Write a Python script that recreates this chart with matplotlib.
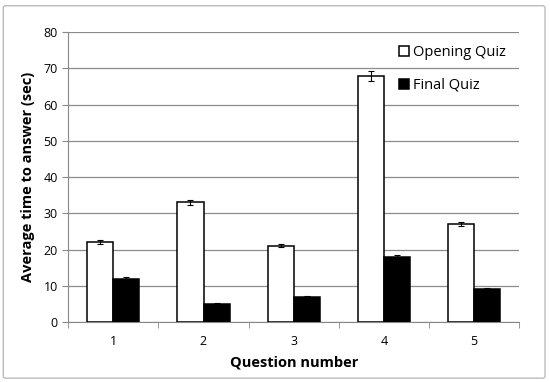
import numpy as np
import matplotlib.pyplot as plt
from matplotlib.patches import FancyBboxPatch

questions = ['1', '2', '3', '4', '5']
opening = [22, 33, 21, 68, 27]
opening_err = [0.5, 0.7, 0.4, 1.4, 0.6]
final = [12, 5, 7, 18, 9]
final_err = [0.5, 0.3, 0.3, 0.6, 0.4]

plt.rcParams['font.family'] = ['Open Sans', 'DejaVu Sans']

fig = plt.figure(figsize=(5.5, 3.82), dpi=100)
ax = fig.add_axes([0.124, 0.157, 0.82, 0.759])

x = np.arange(len(questions))
w = 0.29
err_kw = dict(ecolor='black', elinewidth=0.8, capsize=2.5, capthick=0.8)
ax.bar(x - w/2, opening, w, yerr=opening_err, color='white', edgecolor='black',
       linewidth=1.1, label='Opening Quiz', error_kw=err_kw, zorder=3)
ax.bar(x + w/2, final, w, yerr=final_err, color='black', edgecolor='black',
       linewidth=1.1, label='Final Quiz', error_kw=err_kw, zorder=3)

ax.set_xlim(-0.5, len(questions) - 0.5)
ax.set_ylim(0, 80)
ax.set_yticks(range(0, 81, 10))
ax.set_xticks(x)
ax.set_xticklabels(questions)
ax.set_xticks(np.arange(-0.5, len(questions), 1), minor=True)
ax.tick_params(axis='x', which='major', length=0, labelsize=9, pad=9)
ax.tick_params(axis='x', which='minor', length=4, color='#888888')
ax.tick_params(axis='y', length=4, color='#888888', labelsize=9)

ax.grid(axis='y', color='#8c8c8c', linewidth=0.9, zorder=0)
for s in ['top', 'right']:
    ax.spines[s].set_visible(False)
ax.spines['left'].set_color('#888888')
ax.spines['bottom'].set_color('#888888')

ax.set_xlabel('Question number', fontweight='bold', fontsize=10.5, labelpad=6)
ax.set_ylabel('Average time to answer (sec)', fontweight='bold', fontsize=10.5, labelpad=6)

leg = ax.legend(loc='upper right', bbox_to_anchor=(1.0, 1.0), frameon=False,
                fontsize=10.5, handlelength=0.7, handleheight=0.7,
                handletextpad=0.3, labelspacing=1.2)

border = FancyBboxPatch((0.006, 0.01), 0.985, 0.975, boxstyle='round,pad=0,rounding_size=0.005',
                        transform=fig.transFigure, fill=False, edgecolor='#bbbbbb',
                        linewidth=1.0)
fig.patches.append(border)

fig.savefig('out.png', dpi=100)
